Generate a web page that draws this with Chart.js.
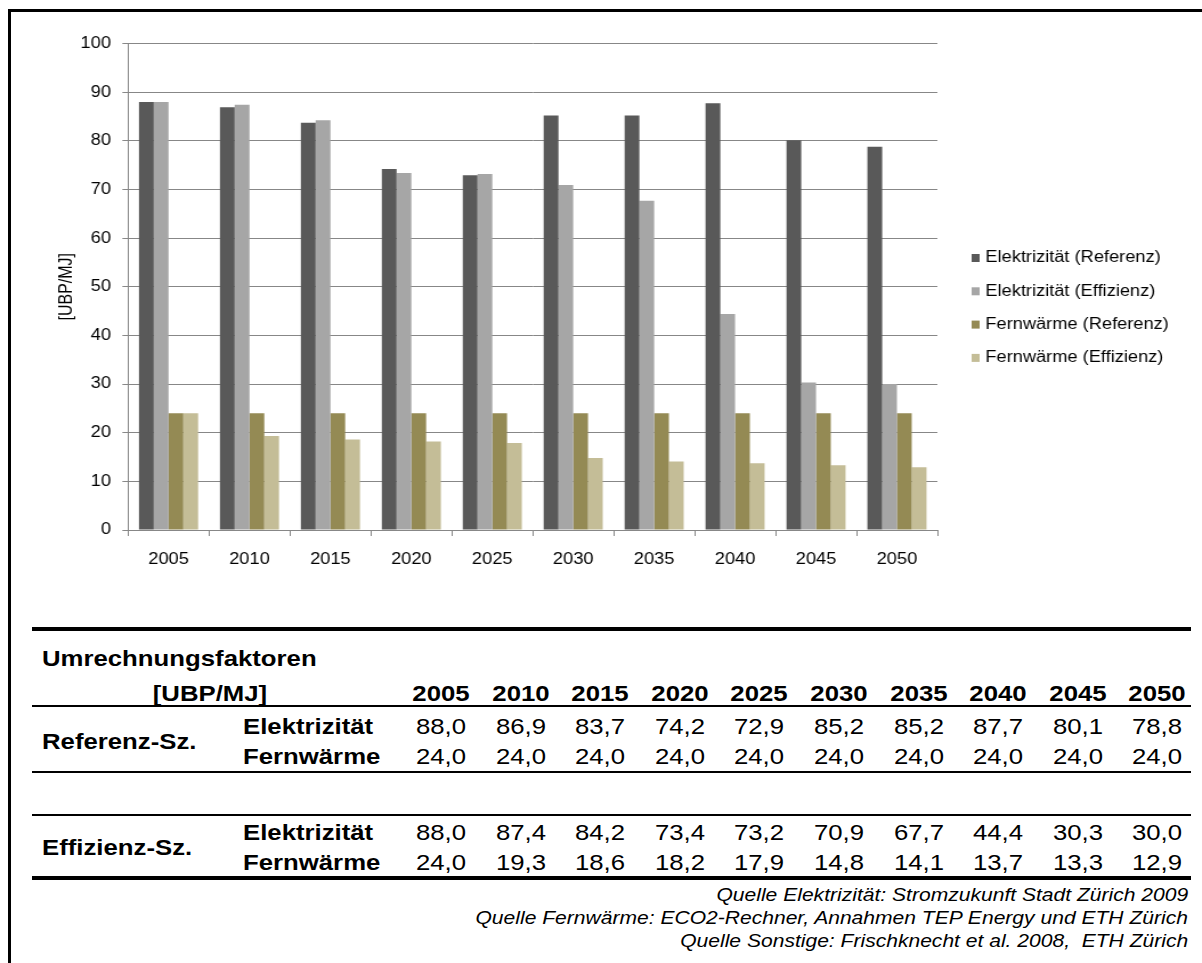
<!DOCTYPE html>
<html lang="de">
<head>
<meta charset="utf-8">
<title>Umrechnungsfaktoren</title>
<script src="https://cdn.jsdelivr.net/npm/chart.js@4.4.1/dist/chart.umd.min.js"></script>
<style>
    html, body { margin: 0; padding: 0; background: #fff; }
    body {
        width: 1202px; height: 963px; position: relative; overflow: hidden;
        font-family: "Liberation Sans", Arial, sans-serif; color: #000;
    }
    #rahmen {
        position: absolute; left: 8px; top: 9px; right: 0; bottom: 0;
        border-left: 3px solid #000; border-top: 3px solid #000;
    }
    /* the sheet uses slightly wide lettering, so the chart is stretched horizontally */
    #chartBox {
        position: absolute; left: 0; top: 0; width: 1054px; height: 615px;
        transform-origin: 0 0; transform: scaleX(1.1404);
    }
    .linie { position: absolute; left: 32px; width: 1159px; background: #000; }
    .txt { position: absolute; white-space: pre; line-height: 1; font-size: 22px; }
    .b { font-weight: bold; }
    .quelle { font-size: 18px; font-style: italic; }
</style>
</head>
<body>
<div id="rahmen"></div>
<div id="chartBox"><canvas id="myChart"></canvas></div>
<div id="tabelle"></div>

<script>
const jahre = ['2005', '2010', '2015', '2020', '2025', '2030', '2035', '2040', '2045', '2050'];

const elektrizitaetReferenz = [88.0, 86.9, 83.7, 74.2, 72.9, 85.2, 85.2, 87.7, 80.1, 78.8];
const elektrizitaetEffizienz = [88.0, 87.4, 84.2, 73.4, 73.2, 70.9, 67.7, 44.4, 30.3, 30.0];
const fernwaermeReferenz = [24.0, 24.0, 24.0, 24.0, 24.0, 24.0, 24.0, 24.0, 24.0, 24.0];
const fernwaermeEffizienz = [24.0, 19.3, 18.6, 18.2, 17.9, 14.8, 14.1, 13.7, 13.3, 12.9];

const serienNamen = ['Elektrizität (Referenz)', 'Elektrizität (Effizienz)', 'Fernwärme (Referenz)', 'Fernwärme (Effizienz)'];
const farben = ['#595959', '#a6a6a6', '#948a54', '#c4bd97'];

const yMin = 0;
const yMax = 100;
const yStep = 10;
const einheit = '[UBP/MJ]';

const quellen = [
    'Quelle Elektrizität: Stromzukunft Stadt Zürich 2009',
    'Quelle Fernwärme: ECO2-Rechner, Annahmen TEP Energy und ETH Zürich',
    'Quelle Sonstige: Frischknecht et al. 2008,  ETH Zürich'
];

const schrift = '"Liberation Sans", Arial, sans-serif';
const gitterFarbe = '#878787';

// legend to the right of the plot, one square + label per series
const legendeRechts = {
    id: 'legendeRechts',
    afterDraw(chart) {
        const ctx = chart.ctx;
        const x = chart.chartArea.right + 30;
        ctx.save();
        ctx.font = '16px ' + schrift;
        ctx.textBaseline = 'middle';
        chart.data.datasets.forEach(function(ds, i) {
            const y = 258 + i * 33.3;
            ctx.fillStyle = ds.backgroundColor;
            ctx.fillRect(x, y - 4, 7, 8);
            ctx.fillStyle = '#000';
            ctx.fillText(ds.label, x + 12, y);
        });
        ctx.restore();
    }
};

const reihen = [elektrizitaetReferenz, elektrizitaetEffizienz, fernwaermeReferenz, fernwaermeEffizienz];

const ctx = document.getElementById('myChart').getContext('2d');
const chart = new Chart(ctx, {
    type: 'bar',
    data: {
        labels: jahre,
        datasets: reihen.map(function(werte, i) {
            return {
                label: serienNamen[i],
                data: werte,
                backgroundColor: farben[i],
                borderWidth: 0,
                barPercentage: 1,
                categoryPercentage: 0.73
            };
        })
    },
    options: {
        responsive: true,
        maintainAspectRatio: false,
        animation: false,
        devicePixelRatio: 1,
        layout: {
            padding: { left: 0, top: 43.5, right: 232, bottom: 0 }
        },
        plugins: {
            legend: { display: false },
            tooltip: { enabled: false }
        },
        scales: {
            x: {
                afterFit: function(scale) { scale.height = 85; },
                ticks: {
                    color: '#000',
                    font: { family: schrift, size: 16 },
                    padding: 14,
                    maxRotation: 0
                },
                grid: {
                    display: true,
                    drawOnChartArea: false,
                    drawTicks: true,
                    tickLength: 6,
                    color: gitterFarbe,
                    offset: true
                },
                border: { color: gitterFarbe, width: 1 }
            },
            y: {
                min: yMin,
                max: yMax,
                afterFit: function(scale) { scale.width = 112.3; },
                ticks: {
                    stepSize: yStep,
                    color: '#000',
                    font: { family: schrift, size: 16 },
                    padding: 10
                },
                grid: {
                    color: gitterFarbe,
                    lineWidth: 1,
                    tickLength: 5
                },
                border: { color: gitterFarbe, width: 1 },
                title: {
                    display: true,
                    text: einheit,
                    color: '#000',
                    font: { family: schrift, size: 16 },
                    padding: { top: 49, bottom: 0 }
                }
            }
        }
    },
    plugins: [legendeRechts]
});

// table of conversion factors under the chart
const tabelle = document.getElementById('tabelle');
const dehnung = 1.17;

function text(inhalt, x, y, ausrichtung, klassen) {
    const el = document.createElement('div');
    el.className = 'txt ' + (klassen || '');
    el.textContent = inhalt;
    el.style.top = y + 'px';
    if (ausrichtung === 'center') {
        el.style.left = x + 'px';
        el.style.transform = 'translate(-50%, -50%) scaleX(' + dehnung + ')';
    } else if (ausrichtung === 'right') {
        el.style.right = (1202 - x) + 'px';
        el.style.transformOrigin = '100% 50%';
        el.style.transform = 'translateY(-50%) scaleX(' + dehnung + ')';
    } else {
        el.style.left = x + 'px';
        el.style.transformOrigin = '0 50%';
        el.style.transform = 'translateY(-50%) scaleX(' + dehnung + ')';
    }
    tabelle.appendChild(el);
}

function linie(y, dicke) {
    const el = document.createElement('div');
    el.className = 'linie';
    el.style.top = y + 'px';
    el.style.height = dicke + 'px';
    tabelle.appendChild(el);
}

function zahl(v) {
    return v.toFixed(1).replace('.', ',');
}

const spalteX = jahre.map(function(j, i) { return 441 + i * 79.6; });

function zeile(werte, y) {
    werte.forEach(function(v, i) { text(zahl(v), spalteX[i], y, 'center'); });
}

linie(627, 4);
text('Umrechnungsfaktoren', 42, 659, 'left', 'b');
text(einheit, 210, 694, 'center', 'b');
jahre.forEach(function(j, i) { text(j, spalteX[i], 694, 'center', 'b'); });
linie(705, 2);

text('Referenz-Sz.', 42, 742, 'left', 'b');
text('Elektrizität', 243, 727, 'left', 'b');
text('Fernwärme', 243, 757, 'left', 'b');
zeile(elektrizitaetReferenz, 727);
zeile(fernwaermeReferenz, 757);
linie(771, 2);

linie(814, 2);
text('Effizienz-Sz.', 42, 848, 'left', 'b');
text('Elektrizität', 243, 833, 'left', 'b');
text('Fernwärme', 243, 863, 'left', 'b');
zeile(elektrizitaetEffizienz, 833);
zeile(fernwaermeEffizienz, 863);
linie(876, 4);

quellen.forEach(function(q, i) { text(q, 1188, 895 + i * 23, 'right', 'quelle'); });
</script>
</body>
</html>
